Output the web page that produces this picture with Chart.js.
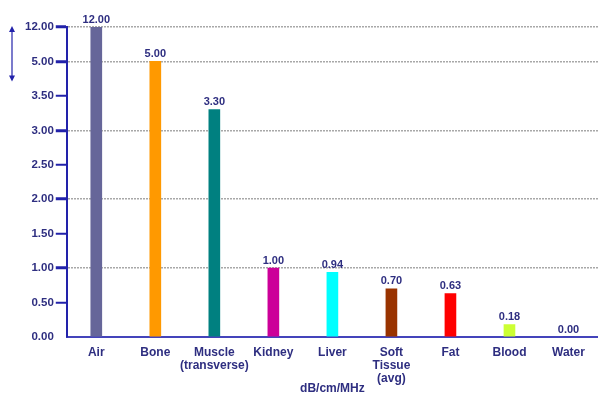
<!DOCTYPE html>
<html>
<head>
<meta charset="utf-8">
<script src="https://cdn.jsdelivr.net/npm/chart.js@4/dist/chart.umd.min.js"></script>
<style>
  html, body { margin: 0; padding: 0; background: #fff; }
  #wrap { width: 598px; height: 398px; }
</style>
</head>
<body>
<div id="wrap"><canvas id="atten"></canvas></div>
<script>
// attenuation coefficients, dB/cm/MHz
const tissues = ['Air', 'Bone', ['Muscle', '(transverse)'], 'Kidney', 'Liver', ['Soft', 'Tissue', '(avg)'], 'Fat', 'Blood', 'Water'];
const attenuation = [12.00, 5.00, 3.30, 1.00, 0.94, 0.70, 0.63, 0.18, 0.00];
const barColors = ['#666699', '#ff9900', '#008080', '#cc0099', '#00ffff', '#993300', '#ff0000', '#ccff33', '#3333aa'];
// y stops are spaced evenly, so the axis is broken above 3.50
const yStops = [0, 0.5, 1, 1.5, 2, 2.5, 3, 3.5, 5, 12];
const majorStops = [1, 2, 3, 5, 12];

const navy = '#2e2e80';
const fontFamily = 'Arial, "Liberation Sans", sans-serif';

function slotOf(v) {
    if (v <= yStops[0]) return 0;
    for (let i = 1; i < yStops.length; i++) {
        if (v <= yStops[i]) {
            return i - 1 + (v - yStops[i - 1]) / (yStops[i] - yStops[i - 1]);
        }
    }
    return yStops.length - 1;
}

class BrokenAxis extends Chart.LinearScale {
    determineDataLimits() {
        this.min = 0;
        this.max = yStops.length - 1;
    }
    buildTicks() {
        return yStops.map(v => ({ value: v, major: majorStops.includes(v) }));
    }
    getPixelForValue(v) {
        return super.getPixelForValue(slotOf(v));
    }
}
BrokenAxis.id = 'broken';
BrokenAxis.defaults = Chart.LinearScale.defaults;
Chart.register(BrokenAxis);

// value labels above each bar
const valueLabels = {
    id: 'valueLabels',
    afterDatasetsDraw(chart) {
        const ctx = chart.ctx;
        const meta = chart.getDatasetMeta(0);
        ctx.save();
        ctx.font = 'bold 11px ' + fontFamily;
        ctx.fillStyle = navy;
        ctx.textAlign = 'center';
        ctx.textBaseline = 'bottom';
        meta.data.forEach((bar, i) => {
            ctx.fillText(attenuation[i].toFixed(2), bar.x, bar.y - 2);
        });
        ctx.restore();
    }
};

// double-headed arrow to the left of the broken part of the axis
const breakArrow = {
    id: 'breakArrow',
    afterDraw(chart) {
        const ctx = chart.ctx;
        const y = chart.scales.y;
        const top = y.getPixelForValue(12);
        const bottom = y.getPixelForValue(5) + 19;
        const x = 12;
        ctx.save();
        ctx.strokeStyle = '#2222aa';
        ctx.fillStyle = '#2222aa';
        ctx.lineWidth = 1.2;
        ctx.beginPath();
        ctx.moveTo(x, top + 3);
        ctx.lineTo(x, bottom - 3);
        ctx.stroke();
        ctx.beginPath();
        ctx.moveTo(x, top - 1); ctx.lineTo(x - 3, top + 5); ctx.lineTo(x + 3, top + 5); ctx.closePath();
        ctx.moveTo(x, bottom + 1); ctx.lineTo(x - 3, bottom - 5); ctx.lineTo(x + 3, bottom - 5); ctx.closePath();
        ctx.fill();
        ctx.restore();
    }
};

new Chart(document.getElementById('atten'), {
    type: 'bar',
    data: {
        labels: tissues,
        datasets: [{
            data: attenuation,
            backgroundColor: barColors,
            barThickness: 11
        }]
    },
    options: {
        responsive: true,
        maintainAspectRatio: false,
        animation: false,
        layout: { padding: { top: 27, right: 0, left: 23, bottom: 2 } },
        plugins: {
            legend: { display: false },
            tooltip: { enabled: false }
        },
        scales: {
            x: {
                grid: { display: false },
                border: { color: '#4444bb', width: 2 },
                ticks: {
                    color: navy,
                    font: { family: fontFamily, size: 12, weight: 'bold', lineHeight: 1.1 },
                    maxRotation: 0,
                    autoSkip: false,
                    padding: 1
                },
                title: {
                    display: true,
                    text: 'dB/cm/MHz',
                    color: navy,
                    font: { family: fontFamily, size: 12, weight: 'bold' },
                    padding: { top: -5, bottom: 0 }
                }
            },
            y: {
                type: 'broken',
                grid: {
                    color: ctx => (ctx.tick && ctx.tick.major) ? '#a8a8a8' : 'transparent',
                    lineWidth: 1.5,
                    tickColor: ctx => (ctx.tick && ctx.tick.value === 0) ? 'transparent' : '#2222aa',
                    tickWidth: ctx => (ctx.tick && ctx.tick.major) ? 3 : 2,
                    tickLength: 11,
                    tickBorderDash: []
                },
                border: { color: '#2222aa', width: 2, dash: [2, 1] },
                ticks: {
                    autoSkip: false,
                    color: navy,
                    font: { family: fontFamily, size: 11.5, weight: 'bold' },
                    padding: 2,
                    callback: v => Number(v).toFixed(2)
                }
            }
        }
    },
    plugins: [valueLabels, breakArrow]
});
</script>
</body>
</html>
